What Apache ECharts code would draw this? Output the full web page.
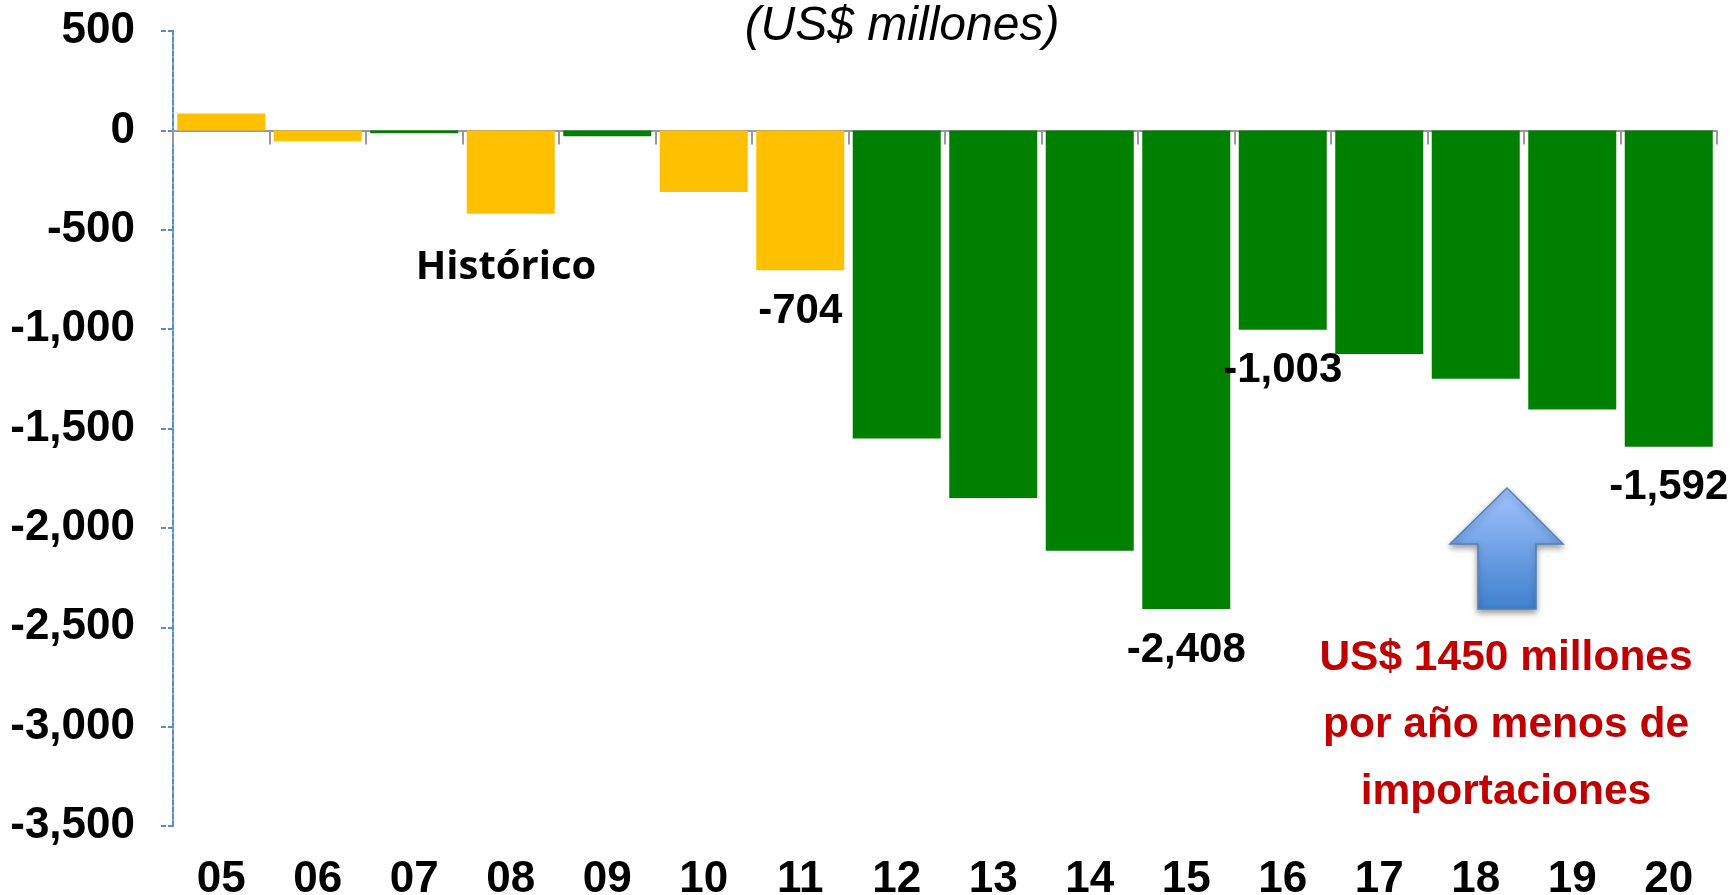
<!DOCTYPE html>
<html>
<head>
<meta charset="utf-8">
<style>html,body{margin:0;padding:0;background:#fff}#c{width:1731px;height:895px}</style>
<script src="https://cdn.jsdelivr.net/npm/echarts@6/dist/echarts.min.js"></script>
</head>
<body>
<div id="c"></div>
<script>
const years = ['05','06','07','08','09','10','11','12','13','14','15','16','17','18','19','20'];
const balance = [85,-55,-15,-420,-30,-310,-704,-1550,-1850,-2115,-2408,-1003,-1125,-1250,-1405,-1592];
const barColors = ['#FFC000','#FFC000','#008000','#FFC000','#008000','#FFC000','#FFC000','#008000','#008000','#008000','#008000','#008000','#008000','#008000','#008000','#008000'];
const labelledYears = ['11','15','16','20'];
const titleText = '(US$ millones)';
const historicText = 'Histórico';
const noteText = 'US$ 1450 millones\npor año menos de\nimportaciones';

const font = '"Liberation Sans", Arial, sans-serif';
const chart = echarts.init(document.getElementById('c'), null, {renderer:'canvas'});
chart.setOption({
  animation:false,
  backgroundColor:'#fff',
  grid:{left:173,right:14,top:31,bottom:69,containLabel:false,outerBoundsMode:'none'},
  xAxis:[
    {type:'category',data:years,position:'bottom',
     axisLine:{onZero:true,lineStyle:{color:'#999',width:2}},
     axisTick:{show:true,alignWithLabel:false,length:14,lineStyle:{color:'#999',width:2}},
     axisLabel:{show:false},splitLine:{show:false}},
    {type:'category',data:years,position:'bottom',
     axisLine:{show:false,onZero:false},axisTick:{show:false},splitLine:{show:false},
     axisLabel:{show:true,interval:0,margin:32,color:'#000',fontFamily:font,fontWeight:'bold',fontSize:44}}
  ],
  yAxis:{type:'value',min:-3500,max:500,interval:500,
    axisLine:{show:true,lineStyle:{color:'#5B8BCB',width:2,type:[5,2]}},
    axisTick:{show:true,length:13,lineStyle:{color:'#5B8BCB',width:2,type:[5,2]}},
    splitLine:{show:false},
    axisLabel:{margin:38,padding:[4,0,0,0],color:'#000',fontFamily:font,fontWeight:'bold',fontSize:44,
      formatter:v=>v.toLocaleString('en-US')}},
  series:[{
    type:'bar',xAxisIndex:0,barWidth:88,
    data:balance.map((v,i)=>({
      value:v,
      itemStyle:{color:barColors[i]},
      label:{show:labelledYears.includes(years[i])}
    })),
    label:{position:'bottom',distance:20,color:'#000',fontFamily:font,fontWeight:'bold',fontSize:42,
      formatter:p=>p.value.toLocaleString('en-US')},
    z:3
  }],
  graphic:[
    {type:'text',x:902,y:27,z:10,style:{text:titleText,fill:'#000',font:'italic 48px '+font,textAlign:'center',textVerticalAlign:'middle'}},
    {type:'text',x:506,y:268,z:10,style:{text:historicText,fill:'#000',font:'bold 40px "Open Sans", sans-serif',textAlign:'center',textVerticalAlign:'middle'}},
    {type:'polygon',z:10,
      shape:{points:[[1507,488],[1563,544],[1536,544],[1536,609],[1478,609],[1478,544],[1450,544]]},
      style:{
        fill:new echarts.graphic.LinearGradient(0,0,0,1,[{offset:0,color:'#A3C4FF'},{offset:1,color:'#3F80CD'}]),
        stroke:'#4F81BD',lineWidth:1.5,shadowBlur:6,shadowOffsetY:3,shadowColor:'rgba(0,0,0,0.4)'}},
    {type:'text',x:1506,y:725,z:10,style:{text:noteText,fill:'#C00000',font:'bold 42.5px '+font,lineHeight:67,textAlign:'center',textVerticalAlign:'middle'}}
  ]
});
</script>
</body>
</html>
